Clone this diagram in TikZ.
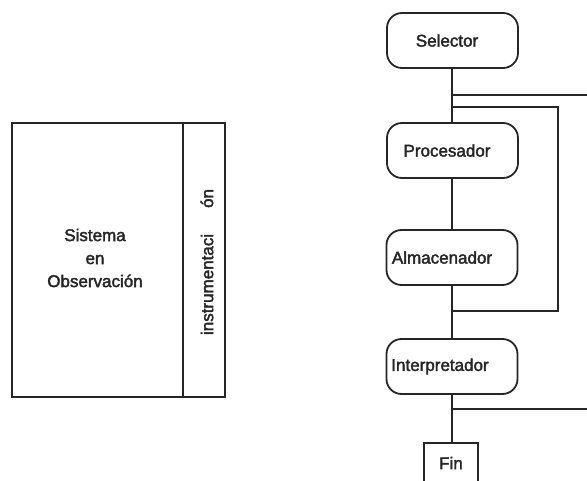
\documentclass[tikz,border=0pt]{standalone}
\usepackage{fontspec}
\setmainfont{Liberation Sans}
\newfontfamily\labelfont{Liberation Sans}[FakeBold=2.2]
\begin{document}
\begin{tikzpicture}[x=1pt,y=-1pt,
  line width=1.8pt, color={black!85},
  txt/.style={font=\labelfont\fontsize{17}{23}\selectfont, inner sep=0pt},
  stage/.style={draw, rounded corners=15pt, minimum width=131pt, minimum height=55pt, inner sep=0pt},
  block/.style={draw, inner sep=0pt}]
\useasboundingbox (0,0) rectangle (587,481);
\clip (0,0) rectangle (587,481);

% observed system with its instrumentation strip
\node[block, minimum width=171pt, minimum height=274pt] (sys) at (97.5,260) {};
\node[block, minimum width=42pt, minimum height=274pt] (instr) at (204,260) {};
\node[txt, align=center] (systxt) at (95,258) {Sistema\\en\\Observación};
\node[txt, rotate=90] (instrtxt) at (207,262) {instrumentaci\hspace{26pt}ón};

% processing chain
\node[stage] (sel) at (452.5,40.5) {};
\node[txt] (seltxt) at (447,40.5) {Selector};
\node[stage] (proc) at (452.5,150.5) {};
\node[txt] (proctxt) at (447,150.5) {Procesador};
\node[stage] (alm) at (452,257.5) {};
\node[txt] (almtxt) at (442,257.5) {Almacenador};
\node[stage] (int) at (452,366.5) {};
\node[txt] (inttxt) at (440,366.5) {Interpretador};
\node[block, minimum width=54pt, minimum height=60pt] (fin) at (451,473) {};
\node[txt] (fintxt) at (451,463) {Fin};

\coordinate (j1) at (452,95);
\coordinate (r1) at (590,95);
\coordinate (j2) at (452,107);
\coordinate (c2) at (558,107);
\coordinate (c3) at (558,311);
\coordinate (j3) at (452,311);
\coordinate (j4) at (452,409);
\coordinate (r4) at (590,409);

\draw (sel.south -| j1) -- (proc.north -| j1);
\draw (proc.south -| j1) -- (alm.north -| j1);
\draw (alm.south -| j1) -- (int.north -| j1);
\draw (int.south -| j1) -- (fin.north -| j1);
\draw (j1) -- (r1);
\draw (j2) -- (c2) -- (c3) -- (j3);
\draw (j4) -- (r4);
\end{tikzpicture}
\end{document}
